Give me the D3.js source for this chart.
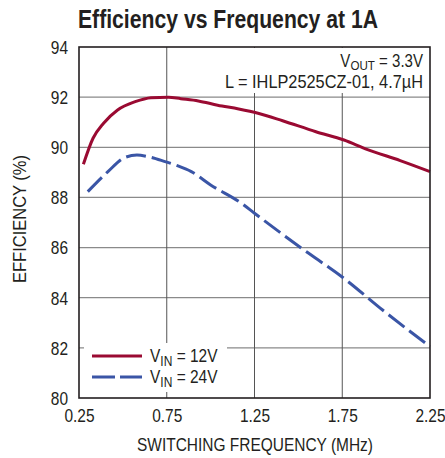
<!DOCTYPE html>
<html><head><meta charset="utf-8">
<script src="https://cdn.jsdelivr.net/npm/d3@7"></script>
<style>
html,body{margin:0;padding:0;background:#fff;}
svg text{font-family:"Liberation Sans",Arial,sans-serif;fill:#231f20;}
</style></head>
<body><svg id="chart" width="445" height="458"></svg>
<script>
// ---- data ----
const xTicks = [0.25, 0.75, 1.25, 1.75, 2.25];
const xTickLabels = ["0.25", "0.75", "1.25", "1.75", "2.25"];
const yTicks = [80, 82, 84, 86, 88, 90, 92, 94];
const yTickLabels = ["80", "82", "84", "86", "88", "90", "92", "94"];
const freq12 = [0.275, 0.33, 0.39, 0.47, 0.57, 0.66, 0.76, 0.83, 0.93, 1.04, 1.16, 1.27, 1.41, 1.6, 1.76, 1.89, 2.08, 2.25];
const eff12  = [89.32, 90.36, 90.96, 91.49, 91.82, 91.98, 92.0, 91.94, 91.85, 91.68, 91.53, 91.36, 91.06, 90.62, 90.29, 89.92, 89.47, 89.03];
const freq24 = [0.3, 0.415, 0.51, 0.58, 0.64, 0.74, 0.81, 0.89, 1.0, 1.175, 1.25, 1.51, 1.76, 1.98, 2.25];
const eff24  = [88.23, 89.03, 89.59, 89.69, 89.63, 89.43, 89.27, 89.03, 88.5, 87.77, 87.37, 86.01, 84.77, 83.51, 82.05];
const seriesNames = ["12V", "24V"];

// ---- layout ----
const L = 79, T = 47, W = 351, H = 351;
const red = "#9a0a32", blue = "#3a55a6";
const svg = d3.select("#chart");
const x = d3.scaleLinear().domain([0.25, 2.25]).range([L, L + W]);
const y = d3.scaleLinear().domain([80, 94]).range([T + H, T]);

// gridlines
const grid = svg.append("g");
grid.selectAll("line.h").data(yTicks.slice(1, -1)).join("line")
  .attr("x1", L).attr("x2", L + W).attr("y1", d => y(d)).attr("y2", d => y(d))
  .attr("stroke", "#8a8a8a").attr("stroke-width", 1.2);
grid.selectAll("line.v").data(xTicks.slice(1, -1)).join("line")
  .attr("y1", T).attr("y2", T + H).attr("x1", d => x(d)).attr("x2", d => x(d))
  .attr("stroke", "#555").attr("stroke-width", 1);

// white boxes behind annotation and legend
svg.append("rect").attr("x", 223).attr("y", T + 1).attr("width", 205).attr("height", 45).attr("fill", "#fff");
svg.append("rect").attr("x", 84).attr("y", 343).attr("width", 143).attr("height", 49).attr("fill", "#fff");

// curves
const line = d3.line().x(d => x(d[0])).y(d => y(d[1])).curve(d3.curveMonotoneX);
svg.append("path").datum(freq24.map((f, i) => [f, eff24[i]]))
  .attr("d", line).attr("fill", "none").attr("stroke", blue).attr("stroke-width", 3)
  .attr("stroke-dasharray", "20,6");
svg.append("path").datum(freq12.map((f, i) => [f, eff12[i]]))
  .attr("d", line).attr("fill", "none").attr("stroke", red).attr("stroke-width", 3);

// frame
svg.append("rect").attr("x", L).attr("y", T).attr("width", W).attr("height", H)
  .attr("fill", "none").attr("stroke", "#231f20").attr("stroke-width", 1.6);

// axes (labels only)
const sx = 0.86;
const yAxis = svg.append("g").attr("transform", `translate(${L},0)`)
  .call(d3.axisLeft(y).tickValues(yTicks).tickFormat((d, i) => yTickLabels[i]).tickSize(0).tickPadding(0));
yAxis.select(".domain").remove();
yAxis.selectAll("text").attr("x", null).attr("dy", "0.35em").attr("font-size", 18)
  .attr("transform", `translate(-11,0) scale(${sx},1)`).style("font-family", "Liberation Sans, Arial, sans-serif").attr("fill", "#231f20");
const xAxis = svg.append("g").attr("transform", `translate(0,${T + H})`)
  .call(d3.axisBottom(x).tickValues(xTicks).tickFormat((d, i) => xTickLabels[i]).tickSize(0).tickPadding(0));
xAxis.select(".domain").remove();
xAxis.selectAll("text").attr("y", null).attr("dy", null).attr("font-size", 18)
  .attr("transform", `translate(0,24) scale(${sx},1)`).style("font-family", "Liberation Sans, Arial, sans-serif").attr("fill", "#231f20");

// titles
svg.append("text").attr("x", 78).attr("y", 28).attr("font-size", 26).attr("font-weight", "bold")
  .attr("textLength", 300).attr("lengthAdjust", "spacingAndGlyphs")
  .text("Efficiency vs Frequency at 1A");
svg.append("text").attr("x", 137).attr("y", 451).attr("font-size", 18)
  .attr("textLength", 236).attr("lengthAdjust", "spacingAndGlyphs")
  .text("SWITCHING FREQUENCY (MHz)");
svg.append("text").attr("transform", "translate(26,283) rotate(-90)").attr("font-size", 18)
  .attr("textLength", 128).attr("lengthAdjust", "spacingAndGlyphs")
  .text("EFFICIENCY (%)");

// annotation
const a1 = svg.append("text").attr("x", 423).attr("y", 67).attr("font-size", 17.5).attr("text-anchor", "end")
  .attr("transform", `translate(${423 * (1 - sx)},0) scale(${sx},1)`);
a1.append("tspan").text("V");
a1.append("tspan").attr("font-size", 13.5).attr("dy", 3).text("OUT");
a1.append("tspan").attr("dy", -3).text(" = 3.3V");
svg.append("text").attr("x", 423).attr("y", 88).attr("font-size", 17.5).attr("text-anchor", "end")
  .attr("textLength", 198).attr("lengthAdjust", "spacingAndGlyphs")
  .text("L = IHLP2525CZ-01, 4.7\u00b5H");

// legend
const legY = [356, 377];
const legColors = [red, blue];
const legDash = [null, "23,5"];
seriesNames.forEach((name, i) => {
  svg.append("line").attr("x1", 92).attr("x2", 142).attr("y1", legY[i]).attr("y2", legY[i])
    .attr("stroke", legColors[i]).attr("stroke-width", 3).attr("stroke-dasharray", legDash[i]);
  const t = svg.append("text").attr("x", 150).attr("y", legY[i] + 6).attr("font-size", 18)
    .attr("transform", `translate(${150 * (1 - sx)},0) scale(${sx},1)`);
  t.append("tspan").text("V");
  t.append("tspan").attr("font-size", 14).attr("dy", 4).text("IN");
  t.append("tspan").attr("dy", -4).text(" = " + name);
});
</script></body></html>
